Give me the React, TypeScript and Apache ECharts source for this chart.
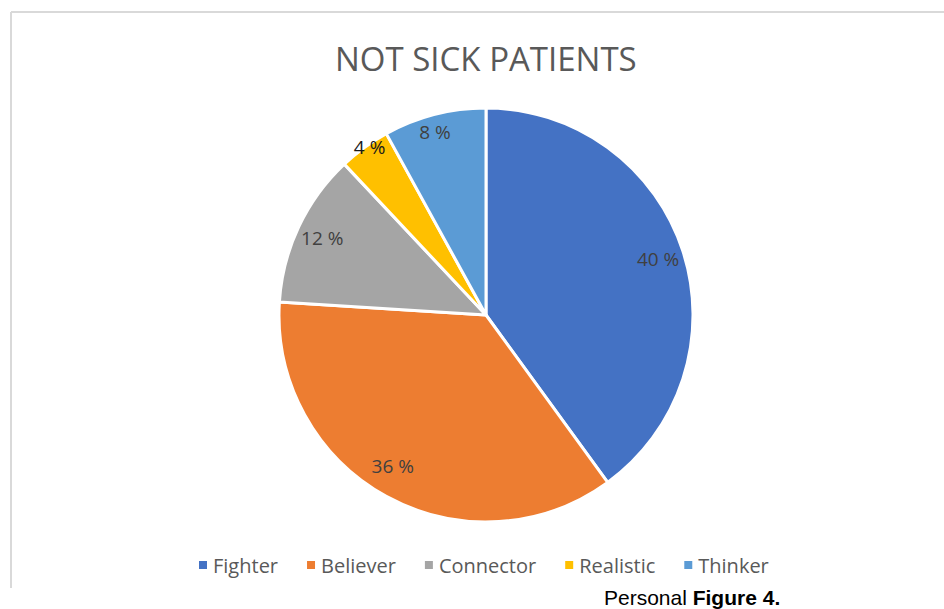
import React, { useEffect, useRef } from "react";
import * as echarts from "echarts";

const categories = ["Fighter", "Believer", "Connector", "Realistic", "Thinker"];
const values = [40, 36, 12, 4, 8];
const colors = ["#4472C4", "#ED7D31", "#A5A5A5", "#FFC000", "#5B9BD5"];
const titleText = "NOT SICK PATIENTS";

export default function App() {
  const ref = useRef<HTMLDivElement>(null);
  useEffect(() => {
    if (!ref.current) return;
    const chart = echarts.init(ref.current, null, { renderer: "svg" });
    const labelOffsets: Record<string, number[]> = {
      Believer: [-6, -8],
      Realistic: [-10, -22],
      Thinker: [-6, -8],
    };
    const labelColors: Record<string, string> = { Realistic: "#1a1a1a" };
    chart.setOption({
      animation: false,
      backgroundColor: "#ffffff",
      title: {
        text: titleText,
        left: 330,
        top: 37,
        textStyle: {
          fontFamily: "Open Sans",
          fontSize: 33,
          fontWeight: "normal",
          color: "#595959",
        },
      },
      legend: {
        data: categories,
        top: 550,
        left: 192,
        itemWidth: 10,
        itemHeight: 10,
        itemGap: 27,
        icon: "rect",
        textStyle: { fontFamily: "Open Sans", fontSize: 20, color: "#595959", padding: [0, 0, 0, 0] },
      },
      graphic: [
        { type: "line", shape: { x1: 11, y1: 12, x2: 944, y2: 12 }, style: { stroke: "#d9d9d9", lineWidth: 2 } },
        { type: "line", shape: { x1: 11, y1: 12, x2: 11, y2: 588 }, style: { stroke: "#d9d9d9", lineWidth: 2 } },
        {
          type: "text",
          left: 604,
          top: 587,
          style: {
            text: "Personal {b|Figure 4.}",
            fontFamily: "Liberation Sans",
            fontSize: 21,
            fill: "#000",
            rich: { b: { fontFamily: "Liberation Sans", fontSize: 21, fontWeight: "bold", fill: "#000" } },
          },
        },
      ],
      series: [
        {
          type: "pie",
          center: [486, 315],
          radius: [0, 207],
          startAngle: 90,
          clockwise: true,
          label: { show: false },
          labelLine: { show: false },
          itemStyle: { borderColor: "#ffffff", borderWidth: 3 },
          data: categories.map((c, i) => ({ name: c, value: values[i], itemStyle: { color: colors[i] } })),
        },
        {
          type: "pie",
          silent: true,
          center: [486, 315],
          radius: [149, 207],
          startAngle: 90,
          clockwise: true,
          legendHoverLink: false,
          itemStyle: { color: "rgba(0,0,0,0)", borderWidth: 0 },
          labelLine: { show: false },
          label: {
            show: true,
            position: "inside",
            formatter: (p: any) => p.value + " %",
            fontFamily: "Open Sans",
            fontSize: 19,
            color: "#404040",
          },
          data: categories.map((c, i) => ({
            name: c + " ",
            value: values[i],
            label: {
              offset: labelOffsets[c] || [0, 0],
              color: labelColors[c] || "#404040",
            },
          })),
        },
      ],
    });
    return () => chart.dispose();
  }, []);
  return <div ref={ref} style={{ position: "fixed", left: 0, top: 0, width: 944, height: 609 }} />;
}
